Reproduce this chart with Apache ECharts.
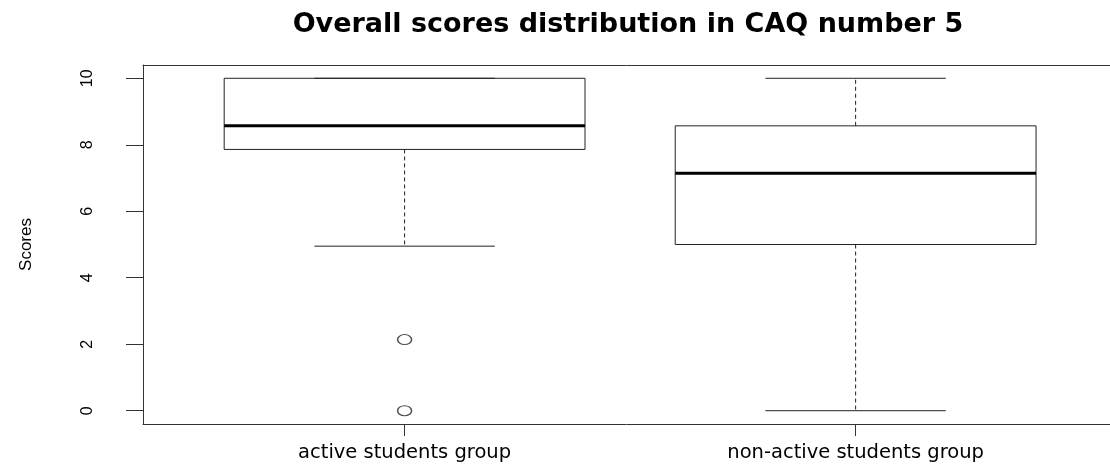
<!DOCTYPE html>
<html>
<head>
<meta charset="utf-8">
<script src="https://cdn.jsdelivr.net/npm/echarts@6/dist/echarts.min.js"></script>
<style>
  html, body { margin: 0; padding: 0; background: #fff; }
  #main { width: 1110px; height: 466px; }
</style>
</head>
<body>
<div id="main"></div>
<script>
// groups sit at 1 and 2 on the x axis, like R's boxplot
var categories = ['active students group', 'non-active students group'];
var groupPos   = [1, 2];
var whiskerLow = [4.95, 0];
var q1         = [7.86, 5.0];
var median     = [8.57, 7.14];
var q3         = [10, 8.57];
var whiskerHigh = [10, 10];
var outlierGroup = [1, 1];
var outlierValue = [2.14, 0];
var yTicks = [0, 2, 4, 6, 8, 10];

var boxRows = groupPos.map(function (p, i) {
  return [p, whiskerLow[i], q1[i], median[i], q3[i], whiskerHigh[i]];
});
var outlierRows = outlierGroup.map(function (g, i) {
  return [g, outlierValue[i]];
});

var narrow = '"Liberation Sans", Arial, sans-serif';
var wide = '"DejaVu Sans", Verdana, sans-serif';

function renderBox(params, api) {
  var x = api.value(0);
  var pLow = api.coord([x, api.value(1)]);
  var pQ1 = api.coord([x, api.value(2)]);
  var pMed = api.coord([x, api.value(3)]);
  var pQ3 = api.coord([x, api.value(4)]);
  var pHigh = api.coord([x, api.value(5)]);
  var half = api.size([0.4, 0])[0];
  var cap = api.size([0.2, 0])[0];
  var cx = pMed[0];
  var stroke = { stroke: '#222', lineWidth: 1, fill: null };
  var dashed = { stroke: '#222', lineWidth: 1, lineDash: [4, 3] };
  return {
    type: 'group',
    children: [
      { type: 'line', shape: { x1: cx, y1: pQ1[1], x2: cx, y2: pLow[1] }, style: dashed },
      { type: 'line', shape: { x1: cx, y1: pQ3[1], x2: cx, y2: pHigh[1] }, style: dashed },
      { type: 'line', shape: { x1: cx - cap, y1: pLow[1], x2: cx + cap, y2: pLow[1] }, style: stroke },
      { type: 'line', shape: { x1: cx - cap, y1: pHigh[1], x2: cx + cap, y2: pHigh[1] }, style: stroke },
      { type: 'rect', shape: { x: cx - half, y: pQ3[1], width: half * 2, height: pQ1[1] - pQ3[1] }, style: stroke },
      { type: 'line', shape: { x1: cx - half, y1: pMed[1], x2: cx + half, y2: pMed[1] }, style: { stroke: '#000', lineWidth: 3 } }
    ]
  };
}

var chart = echarts.init(document.getElementById('main'));
chart.setOption({
  backgroundColor: '#fff',
  animation: false,
  title: {
    text: 'Overall scores distribution in CAQ number 5',
    left: 623,
    top: 6,
    textAlign: 'center',
    textStyle: { fontFamily: wide, fontSize: 27, fontWeight: 'bold', color: '#000' }
  },
  grid: {
    left: 143,
    right: 0,
    top: 65,
    bottom: 42
  },
  xAxis: [
    {
      type: 'value',
      min: 0.42,
      max: 2.564,
      splitLine: { show: false },
      axisLine: { show: true, onZero: false, lineStyle: { color: '#333' } },
      axisTick: { show: true, length: 12, customValues: groupPos, lineStyle: { color: '#333' } },
      axisLabel: {
        customValues: groupPos,
        margin: 19,
        color: '#000',
        fontFamily: wide,
        fontSize: 19.5,
        formatter: function (v) { return categories[Math.round(v) - 1] || ''; }
      }
    },
    {
      // top edge of the frame
      type: 'value',
      position: 'top',
      min: 0.42,
      max: 2.564,
      splitLine: { show: false },
      axisLine: { show: true, onZero: false, lineStyle: { color: '#333' } },
      axisTick: { show: false },
      axisLabel: { show: false }
    }
  ],
  yAxis: {
    type: 'value',
    min: -0.4,
    max: 10.4,
    name: 'Scores',
    nameLocation: 'middle',
    nameRotate: 90,
    nameGap: 108,
    nameTextStyle: { fontFamily: narrow, fontSize: 17, color: '#000' },
    splitLine: { show: false },
    axisLine: { show: true, onZero: false, lineStyle: { color: '#333' } },
    axisTick: { show: true, length: 17, customValues: yTicks, lineStyle: { color: '#333' } },
    axisLabel: {
      customValues: yTicks,
      rotate: 90,
      margin: 47,
      color: '#000',
      fontFamily: narrow,
      fontSize: 16
    }
  },
  series: [
    {
      type: 'custom',
      renderItem: renderBox,
      data: boxRows,
      encode: { x: 0, y: [1, 2, 3, 4, 5] },
      silent: true
    },
    {
      type: 'scatter',
      data: outlierRows,
      symbol: 'circle',
      symbolSize: [14, 10],
      itemStyle: { color: 'transparent', borderColor: '#222', borderWidth: 1.3 },
      silent: true
    }
  ]
});
</script>
</body>
</html>
